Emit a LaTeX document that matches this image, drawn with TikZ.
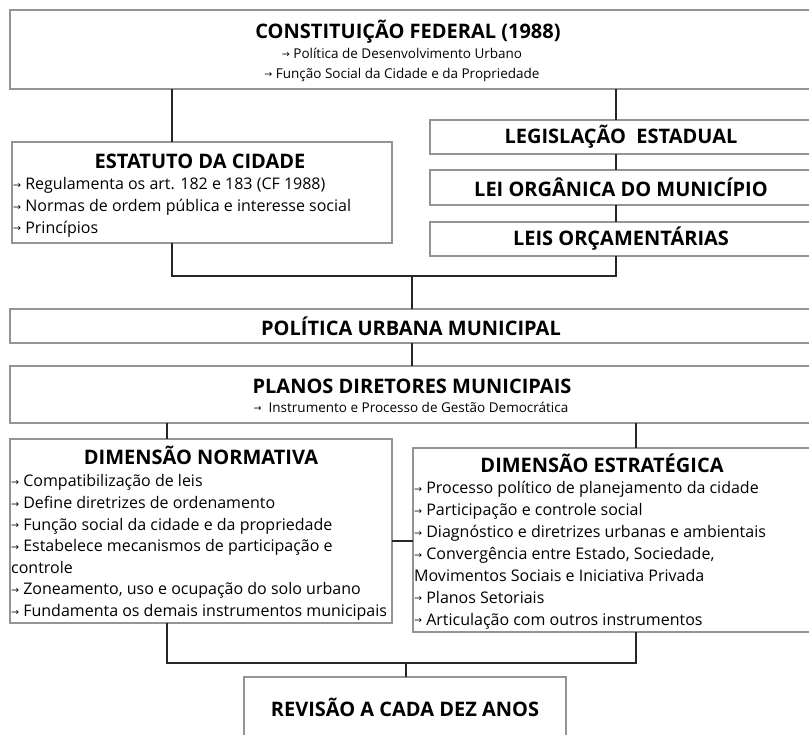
\documentclass[tikz,border=0pt]{standalone}
\usepackage{fontspec}
\setmainfont{Open Sans}
\newfontfamily\arrowfont{DejaVu Sans}
\usetikzlibrary{positioning}

\definecolor{boxline}{gray}{0.58}
\definecolor{linkline}{gray}{0.15}
\newcommand{\arr}{\raisebox{1.3pt}{\arrowfont\fontsize{9.5}{9.5}\selectfont →}\ }

\begin{document}
\begin{tikzpicture}[x=1pt, y=-1pt,
    box/.style={draw=boxline, line width=1.2pt, anchor=north west, inner sep=0pt, outer sep=0pt,
      font=\bfseries\fontsize{20}{24}\selectfont},
    head/.style={anchor=base, inner sep=0pt, font=\bfseries\fontsize{20}{24}\selectfont},
    sub/.style={anchor=base, inner sep=0pt, font=\fontsize{13.5}{16}\selectfont},
    body/.style={anchor=north west, align=left, inner sep=0pt, font=\fontsize{16}{21.6}\selectfont},
    link/.style={draw=linkline, line width=1.3pt}]
  \useasboundingbox (0,0) rectangle (809,735);

  % boxes
  \node (cf)[box, minimum width=802pt, minimum height=79pt] at (10,10) {};
  \node (estatuto)[box, minimum width=380pt, minimum height=101pt] at (12,142) {};
  \node (legis)[box, minimum width=382pt, minimum height=34pt] at (430,120) {LEGISLAÇÃO\ \ ESTADUAL};
  \node (lom)[box, minimum width=382pt, minimum height=35pt] at (430,170) {LEI ORGÂNICA DO MUNICÍPIO};
  \node (loa)[box, minimum width=382pt, minimum height=34pt] at (430,222) {LEIS ORÇAMENTÁRIAS};
  \node (pum)[box, minimum width=802pt, minimum height=34pt] at (10,309) {POLÍTICA URBANA MUNICIPAL};
  \node (pdm)[box, minimum width=802pt, minimum height=57pt] at (10,366) {};
  \node (norm)[box, minimum width=382pt, minimum height=184pt] at (10,439) {};
  \node (estr)[box, minimum width=399pt, minimum height=184pt] at (413,448) {};
  \node (rev)[box, minimum width=322pt, minimum height=60pt] at (244,677) {REVISÃO A CADA DEZ ANOS};

  % texts
  \node (cft)[head] at (408,39) {CONSTITUIÇÃO FEDERAL (1988)};
  \node (cfa)[sub] at (402,58.6) {\arr Política de Desenvolvimento Urbano};
  \node (cfb)[sub] at (402,78.6) {\arr Função Social da Cidade e da Propriedade};

  \node (estt)[head] at (200,169) {ESTATUTO DA CIDADE};
  \node (estb)[body] at (13,177.6) {\arr Regulamenta os art. 182 e 183 (CF 1988)\\
    \arr Normas de ordem pública e interesse social\\
    \arr Princípios};

  \node (pdmt)[head] at (412,394) {PLANOS DIRETORES MUNICIPAIS};
  \node (pdms)[sub] at (411,412.6) {\arr\ Instrumento e Processo de Gestão Democrática};

  \node (normt)[head] at (201,464) {DIMENSÃO NORMATIVA};
  \node (normb)[body] at (11,474.5) {\arr Compatibilização de leis\\
    \arr Define diretrizes de ordenamento\\
    \arr Função social da cidade e da propriedade\\
    \arr Estabelece mecanismos de participação e\\
    controle\\
    \arr Zoneamento, uso e ocupação do solo urbano\\
    \arr Fundamenta os demais instrumentos municipais};

  \node (estrt)[head] at (602,472) {DIMENSÃO ESTRATÉGICA};
  \node (estrb)[body, font=\fontsize{16}{21.9}\selectfont] at (414,481.3) {\arr Processo político de planejamento da cidade\\
    \arr Participação e controle social\\
    \arr Diagnóstico e diretrizes urbanas e ambientais\\
    \arr Convergência entre Estado, Sociedade,\\
    Movimentos Sociais e Iniciativa Privada\\
    \arr Planos Setoriais\\
    \arr Articulação com outros instrumentos};

  % junctions
  \coordinate (jl) at (172,276);
  \coordinate (jm) at (412,276);
  \coordinate (jr) at (616,276);
  \coordinate (mid) at (400,541);
  \coordinate (bl) at (167,663);
  \coordinate (bm) at (406,663);
  \coordinate (br) at (636,663);

  \draw[link] (cf.south -| jl) -- (estatuto.north -| jl);
  \draw[link] (cf.south -| jr) -- (legis.north -| jr);
  \draw[link] (legis.south -| jr) -- (lom.north -| jr);
  \draw[link] (lom.south -| jr) -- (loa.north -| jr);
  \draw[link] (estatuto.south -| jl) -- (jl) -- (jr) -- (loa.south -| jr);
  \draw[link] (jm) -- (pum.north -| jm);
  \draw[link] (pum.south -| jm) -- (pdm.north -| jm);
  \draw[link] (pdm.south -| bl) -- (norm.north -| bl);
  \draw[link] (pdm.south -| br) -- (estr.north -| br);
  \draw[link] (norm.east |- mid) -- (estr.west |- mid);
  \draw[link] (norm.south -| bl) -- (bl) -- (br) -- (estr.south -| br);
  \draw[link] (bm) -- (rev.north -| bm);
\end{tikzpicture}
\end{document}
